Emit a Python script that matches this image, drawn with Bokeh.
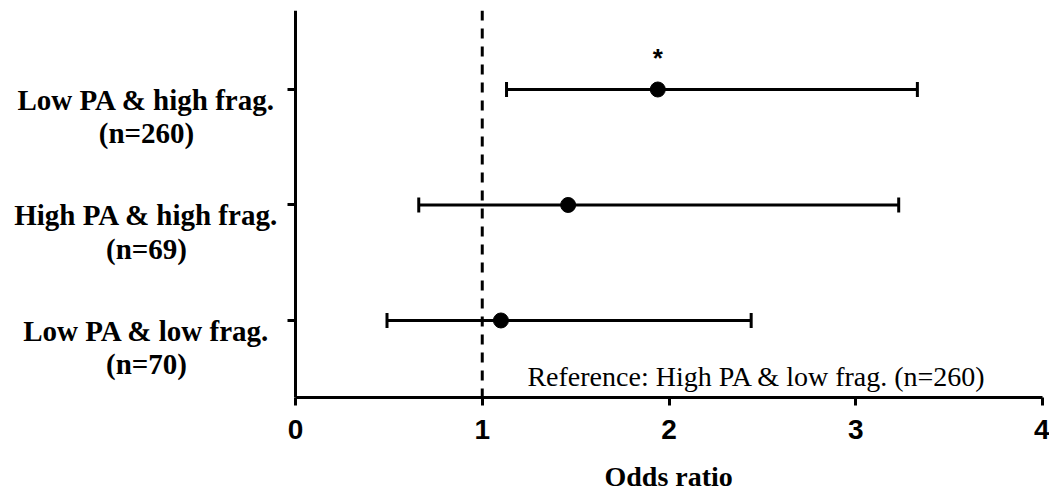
from bokeh.plotting import figure
from bokeh.models import (Range1d, Span, Whisker, TeeHead, Label, Title,
                          ColumnDataSource, FixedTicker)
from bokeh.embed import file_html
from bokeh.resources import INLINE
from bokeh.core.properties import value

# ---- data ----
groups = ["Low PA & high frag.", "High PA & high frag.", "Low PA & low frag."]
group_n = ["(n=260)", "(n=69)", "(n=70)"]
odds = [1.94, 1.46, 1.10]
lower = [1.13, 0.66, 0.49]
upper = [3.33, 3.23, 2.44]
sig = ["*", "", ""]
ypos = [3, 2, 1]
x_ticks = [0, 1, 2, 3, 4]
null_value = 1
reference_text = "Reference: High PA & low frag. (n=260)"
x_title = "Odds ratio"

# ---- layout constants (pixels) ----
FRAME_LEFT = 10          # page x of frame's left edge
AXIS_X = 295             # page x of the value 0
AXIS_RIGHT = 1042        # page x of the value 4
px_per_unit = (AXIS_RIGHT - AXIS_X) / (x_ticks[-1] - x_ticks[0])
x_start = -(AXIS_X - FRAME_LEFT) / px_per_unit
label_x = -(AXIS_X - 146) / px_per_unit
title_offset = 604 - FRAME_LEFT

src = ColumnDataSource(dict(
    y=ypos, odds=odds, lo=lower, hi=upper, sig=sig,
    sy=[v + 0.27 for v in ypos],
))
lab = ColumnDataSource(dict(
    x=[label_x] * len(groups), y1=[v - 0.087 for v in ypos],
    y2=[v - 0.381 for v in ypos], g=groups, n=group_n,
))

p = figure(frame_width=AXIS_RIGHT - FRAME_LEFT, frame_height=387,
           min_border_left=FRAME_LEFT, min_border_right=7, min_border_top=10,
           min_border_bottom=0,
           x_range=Range1d(x_start, x_ticks[-1]), y_range=Range1d(0.333, 3.684),
           output_backend="svg", toolbar_location=None)

p.outline_line_color = None
p.grid.visible = False
p.background_fill_color = "white"
p.border_fill_color = "white"

# x axis
xa = p.xaxis[0]
xa.ticker = FixedTicker(ticks=x_ticks)
xa.bounds = (x_ticks[0], x_ticks[-1])
xa.minor_tick_line_color = None
xa.major_tick_out = 8
xa.major_tick_in = 0
xa.major_tick_line_width = 3
xa.axis_line_width = 3
xa.axis_line_color = "black"
xa.major_tick_line_color = "black"
xa.major_label_text_font = "Liberation Sans"
xa.major_label_text_font_style = "bold"
xa.major_label_text_font_size = "28px"
xa.major_label_text_color = "black"
xa.major_label_standoff = 14

# x axis title, centred under the 0-4 axis
p.add_layout(Title(text=x_title, align="left", offset=title_offset,
                   standoff=34, text_font="Liberation Serif",
                   text_font_style="bold", text_font_size="28px",
                   text_color="black"), "below")

# y axis drawn at x = 0
ya = p.yaxis[0]
ya.fixed_location = 0
ya.ticker = FixedTicker(ticks=ypos)
ya.minor_tick_line_color = None
ya.major_tick_out = 8
ya.major_tick_in = 0
ya.major_tick_line_width = 3
ya.axis_line_width = 3
ya.axis_line_color = "black"
ya.major_tick_line_color = "black"
ya.major_label_standoff = 0
ya.major_label_overrides = {v: "" for v in ypos}

# reference line
p.add_layout(Span(location=null_value, dimension="height", line_color="black",
                  line_width=3, line_dash="10 8"))

# confidence intervals
p.add_layout(Whisker(source=src, base="y", lower="lo", upper="hi",
                     dimension="width", line_width=3, line_color="black",
                     lower_head=TeeHead(size=15, line_width=3, line_color="black"),
                     upper_head=TeeHead(size=15, line_width=3, line_color="black")))

p.scatter("odds", "y", source=src, size=15, color="black")

p.text("odds", "sy", text="sig", source=src, text_align="center",
       text_baseline="alphabetic", text_font=value("Liberation Sans"),
       text_font_style="bold", text_font_size="26px", text_color="black")

# category labels
for col, ycol in (("g", "y1"), ("n", "y2")):
    p.text("x", ycol, text=col, source=lab, text_align="center",
           text_baseline="alphabetic", text_font=value("Liberation Serif"),
           text_font_style="bold", text_font_size="29px", text_color="black")

p.add_layout(Label(x=1.242, y=0.515, text=reference_text, text_align="left",
                   text_baseline="alphabetic", text_font="Liberation Serif",
                   text_font_size="28px", text_color="black"))

open("out.html", "w").write(file_html(p, INLINE))
